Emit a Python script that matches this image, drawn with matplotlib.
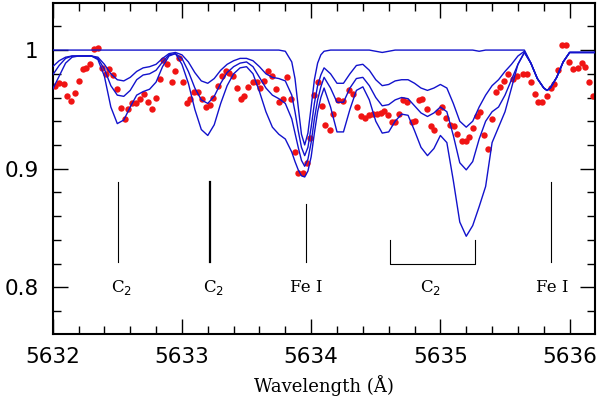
import matplotlib
matplotlib.use("Agg")
import matplotlib.pyplot as plt
from matplotlib.ticker import MultipleLocator, FuncFormatter

# model wavelength grid (A)
wave = [5632.00, 5632.05, 5632.10, 5632.15, 5632.20, 5632.25, 5632.30, 5632.35, 5632.40, 5632.45,
        5632.50, 5632.55, 5632.60, 5632.65, 5632.70, 5632.75, 5632.80, 5632.85, 5632.90, 5632.95,
        5633.00, 5633.05, 5633.10, 5633.15, 5633.20, 5633.25, 5633.30, 5633.35, 5633.40, 5633.45,
        5633.50, 5633.55, 5633.60, 5633.65, 5633.70, 5633.75, 5633.80, 5633.85, 5633.875, 5633.90,
        5633.925, 5633.95, 5633.975, 5634.00, 5634.025, 5634.05, 5634.075, 5634.10, 5634.15, 5634.20,
        5634.25, 5634.30, 5634.35, 5634.40, 5634.45, 5634.50, 5634.55, 5634.60, 5634.65, 5634.70,
        5634.75, 5634.80, 5634.85, 5634.90, 5634.95, 5635.00, 5635.05, 5635.10, 5635.15, 5635.20,
        5635.25, 5635.30, 5635.35, 5635.40, 5635.45, 5635.50, 5635.55, 5635.60, 5635.65, 5635.70,
        5635.75, 5635.80, 5635.825, 5635.85, 5635.90, 5635.95, 5636.00, 5636.05, 5636.10, 5636.15, 5636.20]

# synthetic spectra: no C2, then increasing C2
model_a = [1.0] * 30 + [1.0, 1.0, 1.0, 1.0, 1.0, 1.0, 0.999, 0.990, 0.976, 0.952,
           0.929, 0.920, 0.930, 0.952, 0.975, 0.989, 0.996, 0.999, 1.0, 1.0,
           1.0, 1.0, 1.0, 1.0, 1.0, 0.999, 0.998, 0.999, 1.0, 1.0,
           1.0, 1.0, 1.0, 1.0, 1.0, 1.0, 1.0, 1.0, 1.0, 1.0,
           1.0, 0.999, 1.0, 1.0, 1.0, 1.0, 1.0, 1.0, 1.0, 0.989,
           0.976, 0.968, 0.966, 0.968, 0.977, 0.990, 0.998, 0.998, 0.998, 0.998, 0.998]
model_b = [0.986, 0.991, 0.994, 0.995, 0.995, 0.995, 0.995, 0.994, 0.988, 0.980,
           0.975, 0.974, 0.977, 0.982, 0.985, 0.986, 0.988, 0.993, 0.997, 0.998,
           0.996, 0.990, 0.981, 0.974, 0.972, 0.976, 0.983, 0.988, 0.991, 0.993,
           0.993, 0.991, 0.986, 0.980, 0.977, 0.976, 0.974, 0.962, 0.948, 0.932,
           0.918, 0.911, 0.918, 0.935, 0.955, 0.970, 0.979, 0.985, 0.980, 0.972,
           0.972, 0.980, 0.987, 0.988, 0.983, 0.975, 0.970, 0.971, 0.974, 0.975,
           0.975, 0.972, 0.968, 0.966, 0.968, 0.971, 0.968, 0.955, 0.940, 0.935,
           0.940, 0.952, 0.962, 0.970, 0.975, 0.982, 0.988, 0.995, 0.999, 0.989,
           0.976, 0.968, 0.966, 0.968, 0.977, 0.990, 0.998, 0.998, 0.998, 0.998, 0.998]
model_c = [0.979, 0.987, 0.993, 0.995, 0.995, 0.995, 0.995, 0.993, 0.984, 0.970,
           0.962, 0.961, 0.966, 0.975, 0.979, 0.980, 0.983, 0.990, 0.996, 0.997,
           0.993, 0.982, 0.968, 0.958, 0.955, 0.961, 0.972, 0.981, 0.986, 0.989,
           0.990, 0.986, 0.977, 0.968, 0.962, 0.959, 0.955, 0.942, 0.930, 0.918,
           0.907, 0.902, 0.908, 0.922, 0.942, 0.958, 0.969, 0.977, 0.968, 0.956,
           0.956, 0.968, 0.976, 0.977, 0.970, 0.960, 0.953, 0.954, 0.958, 0.960,
           0.959, 0.953, 0.947, 0.944, 0.947, 0.952, 0.948, 0.928, 0.905, 0.899,
           0.906, 0.925, 0.940, 0.948, 0.952, 0.962, 0.975, 0.988, 0.998, 0.989,
           0.976, 0.968, 0.966, 0.968, 0.977, 0.990, 0.998, 0.998, 0.998, 0.998, 0.998]
model_d = [0.967, 0.978, 0.989, 0.994, 0.995, 0.995, 0.995, 0.992, 0.978, 0.952,
           0.938, 0.941, 0.952, 0.962, 0.965, 0.967, 0.973, 0.986, 0.995, 0.997,
           0.988, 0.972, 0.950, 0.933, 0.928, 0.937, 0.955, 0.970, 0.980, 0.985,
           0.986, 0.980, 0.965, 0.948, 0.935, 0.929, 0.925, 0.914, 0.906, 0.899,
           0.894, 0.893, 0.898, 0.910, 0.930, 0.948, 0.960, 0.968, 0.952, 0.931,
           0.931, 0.950, 0.966, 0.969, 0.958, 0.940, 0.930, 0.931, 0.940, 0.946,
           0.945, 0.932, 0.918, 0.911, 0.917, 0.928, 0.922, 0.890, 0.855, 0.843,
           0.852, 0.868, 0.885, 0.922, 0.935, 0.948, 0.968, 0.988, 0.998, 0.989,
           0.976, 0.968, 0.966, 0.968, 0.977, 0.990, 0.998, 0.998, 0.998, 0.998, 0.998]

# observed spectrum
obs_wave = [5632.020, 5632.051, 5632.084, 5632.111, 5632.142, 5632.170, 5632.200, 5632.232, 5632.259, 5632.290,
            5632.323, 5632.350, 5632.381, 5632.409, 5632.438, 5632.467, 5632.501, 5632.528, 5632.558, 5632.586,
            5632.617, 5632.648, 5632.677, 5632.710, 5632.740, 5632.768, 5632.799, 5632.830, 5632.856, 5632.887,
            5632.921, 5632.949, 5632.980, 5633.006, 5633.037, 5633.066, 5633.097, 5633.124, 5633.153, 5633.186,
            5633.217, 5633.243, 5633.277, 5633.308, 5633.341, 5633.366, 5633.397, 5633.428, 5633.457, 5633.480,
            5633.513, 5633.547, 5633.578, 5633.604, 5633.635, 5633.668, 5633.699, 5633.728, 5633.753, 5633.784,
            5633.815, 5633.841, 5633.875, 5633.900, 5633.934, 5633.965, 5633.991, 5634.024, 5634.055, 5634.081,
            5634.107, 5634.142, 5634.171, 5634.210, 5634.244, 5634.292, 5634.320, 5634.357, 5634.388, 5634.419,
            5634.450, 5634.480, 5634.511, 5634.538, 5634.563, 5634.597, 5634.623, 5634.652, 5634.683, 5634.713,
            5634.744, 5634.778, 5634.801, 5634.833, 5634.861, 5634.894, 5634.925, 5634.950, 5634.983, 5635.010,
            5635.041, 5635.074, 5635.105, 5635.130, 5635.164, 5635.195, 5635.221, 5635.250, 5635.280, 5635.306,
            5635.339, 5635.371, 5635.397, 5635.430, 5635.461, 5635.492, 5635.525, 5635.564, 5635.595, 5635.636,
            5635.672, 5635.698, 5635.731, 5635.757, 5635.788, 5635.822, 5635.853, 5635.881, 5635.912, 5635.938,
            5635.969, 5635.997, 5636.028, 5636.062, 5636.093, 5636.118, 5636.152, 5636.183]
obs_flux = [0.970, 0.972, 0.971, 0.961, 0.957, 0.964, 0.974, 0.984, 0.985, 0.988,
            1.001, 1.002, 0.985, 0.980, 0.984, 0.979, 0.967, 0.951, 0.942, 0.950,
            0.955, 0.955, 0.959, 0.963, 0.956, 0.950, 0.960, 0.976, 0.992, 0.988,
            0.973, 0.982, 0.993, 0.973, 0.955, 0.959, 0.965, 0.965, 0.959, 0.952,
            0.954, 0.960, 0.970, 0.978, 0.982, 0.981, 0.978, 0.968, 0.959, 0.961,
            0.969, 0.973, 0.973, 0.968, 0.974, 0.982, 0.978, 0.967, 0.956, 0.959,
            0.977, 0.959, 0.914, 0.896, 0.896, 0.905, 0.926, 0.962, 0.973, 0.953,
            0.937, 0.933, 0.946, 0.958, 0.957, 0.966, 0.963, 0.952, 0.944, 0.943,
            0.945, 0.946, 0.946, 0.947, 0.949, 0.945, 0.939, 0.939, 0.946, 0.958,
            0.956, 0.939, 0.940, 0.958, 0.959, 0.950, 0.936, 0.933, 0.948, 0.952,
            0.943, 0.937, 0.936, 0.929, 0.923, 0.923, 0.927, 0.934, 0.944, 0.948,
            0.928, 0.917, 0.942, 0.965, 0.969, 0.974, 0.980, 0.976, 0.978, 0.980,
            0.980, 0.973, 0.963, 0.956, 0.956, 0.961, 0.968, 0.971, 0.983, 1.004,
            1.004, 0.990, 0.984, 0.985, 0.989, 0.986, 0.973, 0.961]

# line identifications
id_waves = [5632.506, 5633.214, 5633.958, 5635.859]
id_tops = [0.889, 0.889, 0.870, 0.889]
id_widths = [0.8, 1.6, 0.8, 0.8]
band_waves = [5634.613, 5635.264]
labels = ["C$_2$", "C$_2$", "Fe I", "C$_2$", "Fe I"]
label_waves = [5632.53, 5633.244, 5633.964, 5634.925, 5635.863]

fig = plt.figure(figsize=(6, 3.99), dpi=100)
ax = fig.add_axes([0.0878, 0.1629, 0.9038, 0.8296])

ax.plot(obs_wave, obs_flux, "o", color="#f01414", ms=4.6, mec="none", zorder=2)
for m in [model_a, model_b, model_c, model_d]:
    ax.plot(wave, m, color="#1212cc", lw=1.0, zorder=3)

for w, top, lw in zip(id_waves, id_tops, id_widths):
    ax.plot([w, w], [0.821, top], color="black", lw=lw)
ax.plot([band_waves[0], band_waves[0], band_waves[1], band_waves[1]],
        [0.840, 0.820, 0.820, 0.840], color="black", lw=0.8)
for w, t in zip(label_waves, labels):
    ax.text(w, 0.80, t, ha="center", va="center", fontsize=12, family="DejaVu Serif")

ax.set_xlim(5632.0, 5636.196)
ax.set_ylim(0.7606, 1.0397)
ax.xaxis.set_major_locator(MultipleLocator(1))
ax.xaxis.set_minor_locator(MultipleLocator(0.2))
ax.yaxis.set_major_locator(MultipleLocator(0.1))
ax.yaxis.set_minor_locator(MultipleLocator(0.02))
ax.yaxis.set_major_formatter(FuncFormatter(lambda v, p: "%g" % round(v, 2)))
ax.tick_params(which="both", direction="in", top=True, right=True, width=1.0)
ax.tick_params(which="major", length=11, labelsize=15.5, pad=9)
ax.tick_params(which="minor", length=5.5)
ax.tick_params(axis="y", which="major", pad=10)
for s in ax.spines.values():
    s.set_linewidth(1.5)

ax.set_xlabel("Wavelength (Å)", fontsize=13, family="DejaVu Serif", labelpad=6)

fig.savefig("out.png", dpi=100)
